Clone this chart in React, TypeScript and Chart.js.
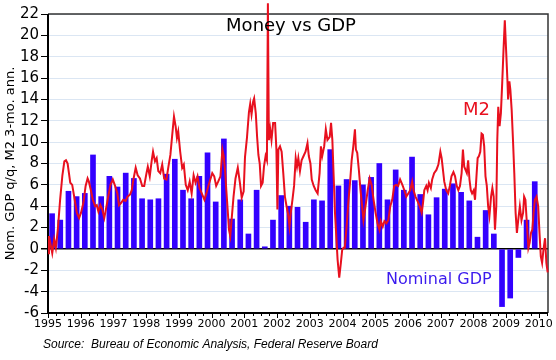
import React, { useEffect, useRef } from 'react';
import { Chart, registerables } from 'chart.js';

Chart.register(...registerables);

const FONT = '"DejaVu Sans", sans-serif';

// Nominal GDP q/q annualized, quarterly from 1995Q1
const gdpStartYear = 1995;
const gdpValues = [
  3.3, 2.7, 5.4, 4.9,
  5.2, 8.8, 4.9, 6.8,
  5.8, 7.1, 6.6, 4.7,
  4.6, 4.7, 7.0, 8.4,
  5.5, 4.7, 6.8, 9.0,
  4.4, 10.3, 2.8, 4.6,
  1.4, 5.5, 0.2, 2.7,
  5.0, 4.0, 3.9, 2.5,
  4.6, 4.5, 9.3, 5.9,
  6.5, 6.4, 6.0, 6.7,
  8.0, 4.6, 7.4, 5.5,
  8.6, 5.1, 3.2, 4.8,
  5.6, 6.1, 5.3, 4.5,
  1.1, 3.6, 1.4, -5.4,
  -4.6, -0.8, 2.7, 6.3,
];

// M2 3-month annualized growth (decimal year, value)
const m2Dates = [
  1995.00, 1995.03, 1995.09, 1995.13, 1995.19, 1995.24, 1995.30, 1995.37, 1995.44, 1995.50,
  1995.55, 1995.60, 1995.64, 1995.68, 1995.74, 1995.80, 1995.88, 1995.95, 1996.01, 1996.08,
  1996.15, 1996.21, 1996.25, 1996.31, 1996.37, 1996.44, 1996.49, 1996.54, 1996.60, 1996.66,
  1996.72, 1996.77, 1996.84, 1996.91, 1996.98, 1997.05, 1997.12, 1997.17, 1997.23, 1997.30,
  1997.37, 1997.43, 1997.51, 1997.56, 1997.61, 1997.68, 1997.74, 1997.81, 1997.88, 1997.94,
  1998.01, 1998.05, 1998.11, 1998.17, 1998.21, 1998.27, 1998.32, 1998.37, 1998.43, 1998.49,
  1998.55, 1998.62, 1998.68, 1998.74, 1998.80, 1998.85, 1998.90, 1998.94, 1998.98, 1999.04,
  1999.10, 1999.15, 1999.21, 1999.27, 1999.33, 1999.39, 1999.45, 1999.51, 1999.57, 1999.63,
  1999.70, 1999.78, 1999.84, 1999.90, 1999.96, 2000.02, 2000.08, 2000.14, 2000.20, 2000.27,
  2000.33, 2000.37, 2000.41, 2000.45, 2000.49, 2000.53, 2000.57, 2000.61, 2000.67, 2000.73,
  2000.80, 2000.86, 2000.92, 2000.98, 2001.02, 2001.08, 2001.14, 2001.18, 2001.22, 2001.27,
  2001.30, 2001.35, 2001.39, 2001.43, 2001.47, 2001.51, 2001.56, 2001.60, 2001.65, 2001.69,
  2001.72, 2001.75, 2001.79, 2001.83, 2001.88, 2001.94, 2001.98, 2002.01, 2002.04, 2002.09,
  2002.14, 2002.19, 2002.24, 2002.29, 2002.34, 2002.38, 2002.42, 2002.47, 2002.52, 2002.57,
  2002.61, 2002.65, 2002.70, 2002.75, 2002.81, 2002.87, 2002.93, 2002.97, 2003.02, 2003.06,
  2003.12, 2003.18, 2003.24, 2003.30, 2003.34, 2003.38, 2003.44, 2003.49, 2003.54, 2003.61,
  2003.65, 2003.69, 2003.73, 2003.77, 2003.81, 2003.85, 2003.90, 2003.95, 2003.99, 2004.03,
  2004.07, 2004.13, 2004.18, 2004.23, 2004.28, 2004.33, 2004.38, 2004.41, 2004.45, 2004.50,
  2004.55, 2004.60, 2004.64, 2004.69, 2004.73, 2004.77, 2004.83, 2004.89, 2004.95, 2005.01,
  2005.07, 2005.13, 2005.17, 2005.23, 2005.28, 2005.34, 2005.40, 2005.46, 2005.52, 2005.58,
  2005.64, 2005.70, 2005.76, 2005.83, 2005.89, 2005.95, 2006.01, 2006.07, 2006.13, 2006.17,
  2006.23, 2006.29, 2006.36, 2006.42, 2006.46, 2006.50, 2006.56, 2006.60, 2006.64, 2006.70,
  2006.74, 2006.80, 2006.87, 2006.93, 2006.99, 2007.03, 2007.07, 2007.11, 2007.17, 2007.23,
  2007.28, 2007.33, 2007.39, 2007.44, 2007.49, 2007.54, 2007.59, 2007.64, 2007.68, 2007.72,
  2007.76, 2007.80, 2007.84, 2007.88, 2007.92, 2007.96, 2008.01, 2008.05, 2008.10, 2008.13,
  2008.17, 2008.21, 2008.25, 2008.29, 2008.33, 2008.37, 2008.41, 2008.45, 2008.49, 2008.54,
  2008.58, 2008.62, 2008.66, 2008.70, 2008.73, 2008.76, 2008.80, 2008.84, 2008.88, 2008.92,
  2008.96, 2009.00, 2009.04, 2009.06, 2009.10, 2009.13, 2009.17, 2009.21, 2009.25, 2009.29,
  2009.33, 2009.37, 2009.42, 2009.47, 2009.52, 2009.55, 2009.59, 2009.64, 2009.68, 2009.72,
  2009.76, 2009.80, 2009.84, 2009.88, 2009.93, 2009.98, 2010.02, 2010.06, 2010.10, 2010.14,
  2010.19, 2010.23, 2010.27,
];
const m2Values = [
  -0.4, 1.2, 0.25, -0.4, 0.9, 0.1, 1.8, 4.6, 6.9, 8.2,
  8.3, 8.0, 7.1, 6.2, 6.0, 4.9, 3.4, 2.9, 3.4, 4.3,
  5.9, 6.6, 6.3, 5.5, 4.6, 4.0, 4.1, 3.5, 4.1, 3.7,
  2.9, 3.7, 4.9, 6.0, 6.5, 5.9, 5.2, 4.1, 4.3, 4.6,
  4.5, 4.9, 5.1, 5.5, 6.5, 7.6, 6.9, 6.6, 5.9, 5.9,
  7.1, 7.7, 6.8, 8.3, 9.1, 8.2, 8.5, 7.3, 7.1, 7.9,
  6.6, 6.5, 7.7, 8.8, 10.8, 12.4, 11.5, 10.4, 11.0, 9.1,
  7.6, 7.9, 6.0, 5.5, 6.3, 5.2, 6.9, 6.2, 6.8, 5.7,
  5.2, 4.6, 5.2, 5.9, 6.5, 7.1, 6.8, 5.9, 6.3, 6.8,
  9.3, 8.7, 7.4, 5.5, 3.7, 1.8, 1.2, 2.7, 4.9, 6.6,
  7.6, 6.3, 4.8, 5.4, 8.6, 10.4, 12.8, 13.6, 12.6, 13.8,
  14.1, 12.7, 10.5, 8.8, 8.0, 5.9, 6.2, 7.7, 8.7, 8.3,
  23.0, 10.2, 11.2, 10.2, 11.8, 11.8, 9.3, 3.7, 9.3, 9.6,
  9.1, 7.1, 4.9, 4.0, 3.2, 2.1, 3.4, 4.6, 5.9, 8.5,
  7.7, 8.5, 7.3, 8.3, 8.7, 9.1, 9.9, 8.7, 8.0, 6.5,
  5.9, 5.5, 5.2, 7.1, 9.6, 8.7, 9.6, 11.2, 10.2, 10.5,
  11.8, 10.2, 6.8, 3.4, 1.2, -1.0, -2.7, -1.3, -0.1, 0.1,
  0.1, 2.3, 4.4, 6.2, 8.3, 9.6, 11.2, 9.3, 9.0, 7.4,
  5.5, 4.0, 2.7, 3.7, 4.6, 5.5, 6.6, 6.0, 4.6, 3.4,
  2.4, 1.8, 2.6, 2.1, 2.6, 2.4, 2.7, 4.0, 4.6, 5.9,
  6.0, 5.9, 6.5, 6.0, 5.5, 4.9, 5.2, 5.5, 6.3, 5.5,
  4.9, 4.5, 4.0, 3.4, 4.3, 5.5, 5.9, 5.5, 6.2, 5.7,
  6.5, 7.1, 7.4, 7.9, 9.1, 8.5, 7.4, 6.3, 5.5, 5.2,
  5.9, 6.8, 7.2, 6.8, 5.9, 5.5, 5.9, 7.1, 9.3, 7.7,
  7.4, 7.1, 8.3, 6.5, 5.5, 5.2, 5.5, 4.6, 7.1, 8.5,
  8.7, 9.1, 10.8, 10.7, 9.6, 6.8, 5.9, 4.0, 3.1, 4.9,
  5.7, 4.9, 1.8, 4.0, 10.2, 13.3, 11.5, 12.7, 15.5, 18.6,
  21.4, 18.6, 15.8, 14.0, 15.7, 14.9, 13.0, 10.2, 7.1, 3.4,
  1.5, 2.7, 4.0, 2.7, 3.4, 4.9, 4.6, 2.1, 0.1, 0.6,
  1.5, 1.8, 3.4, 4.6, 4.9, 4.0, 1.5, -0.7, -1.3, -0.1,
  1.0, -1.3, -2.2,
];

const yMin = -6;
const yMax = 22;
const yStep = 2;
const xMin = 1995;
const xMax = 2010.28;

const titleText = 'Money vs GDP';
const yAxisTitle = 'Nom. GDP q/q, M2 3-mo. ann.';
const m2Label = 'M2';
const gdpLabel = 'Nominal GDP';
const sourceText = 'Source:  Bureau of Economic Analysis, Federal Reserve Board';

const BLUE = '#3300ff';
const RED = '#e8101e';

const decorPlugin = {
  id: 'decor',
  beforeDatasetsDraw(chart: any) {
    const { ctx, chartArea } = chart;
    const { left, right, top, bottom } = chartArea;
    ctx.save();
    ctx.strokeStyle = '#333';
    ctx.lineWidth = 1.5;
    ctx.beginPath();
    ctx.moveTo(left, top);
    ctx.lineTo(right, top);
    ctx.lineTo(right, bottom);
    ctx.stroke();
    ctx.strokeStyle = '#000';
    ctx.lineWidth = 2;
    ctx.beginPath();
    ctx.moveTo(left, top);
    ctx.lineTo(left, bottom);
    ctx.lineTo(right, bottom);
    ctx.stroke();
    ctx.restore();
  },
  afterDraw(chart: any) {
    const { ctx, chartArea, scales } = chart;
    const xs = scales.x;
    ctx.save();
    ctx.strokeStyle = '#000';
    ctx.lineWidth = 1;
    for (const t of xs.ticks) {
      const px = Math.round(xs.getPixelForValue(t.value)) + 0.5;
      const len = Number.isInteger(t.value) ? 5 : 3;
      ctx.beginPath();
      ctx.moveTo(px, chartArea.bottom);
      ctx.lineTo(px, chartArea.bottom + len);
      ctx.stroke();
    }
    ctx.textBaseline = 'middle';
    ctx.fillStyle = '#000';
    ctx.font = `18px ${FONT}`;
    ctx.textAlign = 'center';
    ctx.fillText(titleText, 291, 26);
    ctx.textAlign = 'left';
    ctx.fillStyle = RED;
    ctx.font = `18px ${FONT}`;
    ctx.fillText(m2Label, 463, 110);
    ctx.fillStyle = '#3a1aee';
    ctx.font = `16px ${FONT}`;
    ctx.fillText(gdpLabel, 386, 280);
    ctx.fillStyle = '#000';
    ctx.font = `italic 12px "Liberation Sans", sans-serif`;
    ctx.fillText(sourceText, 43, 345);
    ctx.restore();
  },
};

export default function App() {
  const ref = useRef<HTMLCanvasElement>(null);
  useEffect(() => {
    const barData = gdpValues.map((v, i) => ({ x: gdpStartYear + i * 0.25 + 0.125, y: v }));
    const lineData = m2Dates.map((d, i) => ({ x: d, y: m2Values[i] }));
    const chart = new Chart(ref.current as HTMLCanvasElement, {
      type: 'bar',
      data: {
        datasets: [
          {
            type: 'bar',
            label: gdpLabel,
            data: barData as any,
            backgroundColor: BLUE,
            borderWidth: 0,
            barThickness: 5,
            order: 1,
          } as any,
          {
            type: 'line',
            label: m2Label,
            data: lineData as any,
            borderColor: RED,
            borderWidth: 2,
            pointRadius: 0,
            tension: 0,
            clip: false,
            order: 0,
          } as any,
        ],
      },
      options: {
        responsive: false,
        animation: false,
        devicePixelRatio: 1,
        layout: { padding: { top: 14, right: 8, bottom: 0, left: 0 } },
        plugins: { legend: { display: false }, tooltip: { enabled: false } },
        scales: {
          x: {
            type: 'linear',
            min: xMin,
            max: xMax,
            offset: false,
            afterFit: (s: any) => { s.height = 47; },
            ticks: {
              stepSize: 0.25,
              autoSkip: false,
              includeBounds: false,
              maxRotation: 0,
              padding: 5,
              color: '#000',
              font: { family: FONT, size: 11 },
              callback: (v: any) => (Number.isInteger(v) ? String(v) : ''),
            },
            grid: { display: true, drawOnChartArea: false, drawTicks: false },
            border: { display: false },
          },
          y: {
            min: yMin,
            max: yMax,
            afterFit: (s: any) => { s.width = 48; },
            ticks: {
              stepSize: yStep,
              padding: 2,
              color: '#000',
              font: { family: FONT, size: 15 },
            },
            grid: {
              color: (c: any) => (c.tick && c.tick.value === 0 ? '#000' : '#dbe6f3'),
              lineWidth: (c: any) => (c.tick && c.tick.value === 0 ? 1.5 : 1),
              tickColor: '#000',
              tickLength: 7,
            },
            border: { display: false },
            title: {
              display: true,
              text: yAxisTitle,
              color: '#000',
              font: { family: FONT, size: 13 },
              padding: { top: 3, bottom: 0 },
            },
          },
        },
      } as any,
      plugins: [decorPlugin],
    });
    return () => chart.destroy();
  }, []);
  return (
    <div style={{ position: 'fixed', left: 0, top: 0, width: 556, height: 360, background: '#fff' }}>
      <canvas ref={ref} width={556} height={360} style={{ display: 'block', width: 556, height: 360 }} />
    </div>
  );
}
